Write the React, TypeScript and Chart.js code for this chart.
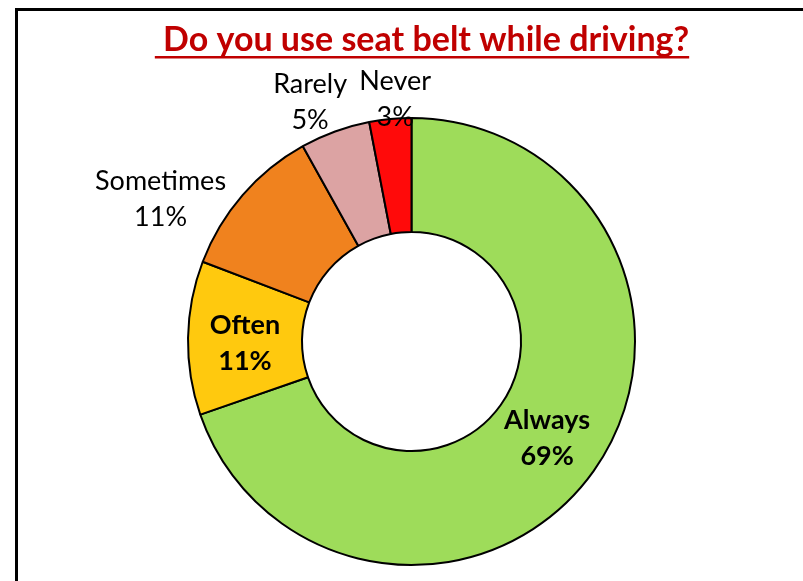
import React, { useEffect, useRef } from "react";
import { Chart, registerables } from "chart.js";

Chart.register(...registerables);

const TITLE = " Do you use seat belt while driving?";
const categories = ["Always", "Often", "Sometimes", "Rarely", "Never"];
const values = [69, 11, 11, 5, 3];
const valueLabels = ["69%", "11%", "11%", "5%", "3%"];
const colors = ["#9edc5a", "#ffc90e", "#f0821e", "#dca3a3", "#ff0a0a"];

// label placement: inside the ring (bold) or outside with radial / angular offset
const placements = [
  { inside: true, dr: 0, da: 0, dy: 0 },
  { inside: true, dr: 0, da: 0, dy: 4 },
  { inside: false, dr: 66, da: -11, dy: 2 },
  { inside: false, dr: 36, da: -3, dy: 0 },
  { inside: false, dr: 19, da: 1.6, dy: 0 },
];

const FONT = "Lato, 'Open Sans', sans-serif";

const labelPlugin = {
  id: "sliceLabels",
  afterDatasetsDraw(chart: any) {
    const ctx = chart.ctx;
    const meta = chart.getDatasetMeta(0);
    ctx.save();
    meta.data.forEach((arc: any, i: number) => {
      const p = arc.getProps(["x", "y", "startAngle", "endAngle", "innerRadius", "outerRadius"], true);
      const pl = placements[i];
      const mid = (p.startAngle + p.endAngle) / 2 + (pl.da * Math.PI) / 180;
      const r = pl.inside ? (p.innerRadius + p.outerRadius) / 2 : p.outerRadius + pl.dr;
      const cx = p.x + Math.cos(mid) * r;
      const cy = p.y + Math.sin(mid) * r + pl.dy;
      ctx.font = `${pl.inside ? "bold " : ""}27px ${FONT}`;
      ctx.fillStyle = "#000";
      ctx.textAlign = "center";
      ctx.textBaseline = "middle";
      ctx.fillText(categories[i], cx, cy - 18);
      ctx.fillText(valueLabels[i], cx, cy + 18);
    });
    ctx.restore();
  },
};

const titlePlugin = {
  id: "underlinedTitle",
  afterDraw(chart: any) {
    const ctx = chart.ctx;
    ctx.save();
    ctx.font = `bold 34px ${FONT}`;
    ctx.fillStyle = "#c00000";
    ctx.textAlign = "center";
    ctx.textBaseline = "alphabetic";
    const cx = 422;
    const baseline = 51;
    ctx.fillText(TITLE, cx, baseline);
    const w = ctx.measureText(TITLE).width;
    ctx.fillRect(cx - w / 2, baseline + 5, w, 2.5);
    ctx.restore();
  },
};

export default function App() {
  const ref = useRef<HTMLCanvasElement | null>(null);
  useEffect(() => {
    document.body.style.margin = "0";
    const canvas = ref.current!;
    const chart = new Chart(canvas, {
      type: "doughnut",
      data: {
        labels: categories,
        datasets: [
          {
            data: values,
            backgroundColor: colors,
            borderColor: "#000",
            borderWidth: 2,
          },
        ],
      },
      options: {
        responsive: false,
        animation: false,
        cutout: "49%",
        layout: { padding: { top: 116.5, bottom: 14.5, left: 187, right: 167 } },
        plugins: {
          legend: { display: false },
          tooltip: { enabled: false },
          title: { display: false },
        },
      },
      plugins: [labelPlugin, titlePlugin],
    });
    return () => chart.destroy();
  }, []);
  return (
    <div style={{ position: "relative", width: 803, height: 581, background: "#fff", overflow: "hidden" }}>
      <div
        style={{
          position: "absolute",
          left: 15,
          top: 8,
          width: 900,
          height: 700,
          borderLeft: "3px solid #000",
          borderTop: "3px solid #000",
        }}
      />
      <canvas ref={ref} width={803} height={581} style={{ position: "absolute", left: 0, top: 0 }} />
    </div>
  );
}
